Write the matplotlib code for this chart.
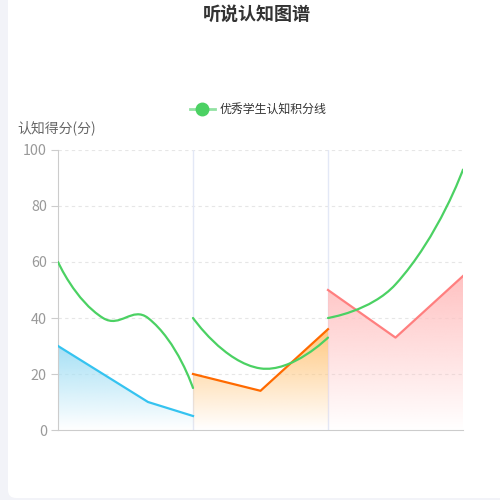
import numpy as np
import matplotlib
matplotlib.use("Agg")
import matplotlib.pyplot as plt
from matplotlib.path import Path
from matplotlib.patches import PathPatch, FancyBboxPatch
from matplotlib.lines import Line2D
from matplotlib.colors import to_rgb

plt.rcParams['font.family'] = ['Noto Sans CJK SC', 'DejaVu Sans']

# 数据：三个阶段，每段一条面积折线 + 一条平滑的“优秀学生”曲线
title = '听说认知图谱'
y_name = '认知得分(分)'
legend_name = '优秀学生认知积分线'
y_ticks = [0, 20, 40, 60, 80, 100]
stage_bounds = [3, 6]

blue_x = [0, 2, 3]
blue_y = [30, 10, 5]
orange_x = [3, 4.5, 6]
orange_y = [20, 14, 36]
pink_x = [6, 7.5, 9]
pink_y = [50, 33, 55]

green1_x = [0, 1, 2, 3]
green1_y = [60, 40, 40, 15]
green2_x = [3, 4.5, 6]
green2_y = [40, 22, 33]
green3_x = [6, 7.5, 9]
green3_y = [40, 52, 93]

GREEN = '#4bd163'

fig = plt.figure(figsize=(5, 5), dpi=100, facecolor='#f2f3f8')
card = FancyBboxPatch((8 / 500, 2 / 500), 1.1, 1.1, boxstyle='round,pad=0,rounding_size=0.016',
                      transform=fig.transFigure, facecolor='white', edgecolor='none', zorder=-5)
fig.patches.append(card)

ax = fig.add_axes([58 / 500, 70 / 500, 405 / 500, 280 / 500])
ax.set_facecolor('none')
ax.set_xlim(0, 9)
ax.set_ylim(0, 100)

for s in ['top', 'right']:
    ax.spines[s].set_visible(False)
ax.spines['left'].set_color('#cccccc')
ax.spines['bottom'].set_color('#cccccc')
ax.set_xticks([])
ax.set_yticks(y_ticks)
ax.tick_params(axis='y', length=5, color='#cccccc', labelcolor='#999999', labelsize=10.3, pad=3)
for t in y_ticks[1:]:
    ax.axhline(t, color='#e6e6e6', lw=0.8, ls=(0, (3, 3)), zorder=1)
for b in stage_bounds:
    ax.axvline(b, color='#e3e8f6', lw=1, zorder=1)


def area(xs, ys, line_color, top_color):
    poly = ax.fill_between(xs, ys, 0, facecolor='none', edgecolor='none')
    rgb = to_rgb(top_color)
    grad = np.zeros((256, 1, 4))
    grad[:, 0, :3] = rgb
    grad[:, 0, 3] = np.linspace(1, 0, 256)
    im = ax.imshow(grad, extent=[min(xs), max(xs), 0, max(ys)], origin='upper',
                   aspect='auto', zorder=2, interpolation='bilinear')
    im.set_clip_path(poly.get_paths()[0], transform=ax.transData)
    ax.plot(xs, ys, color=line_color, lw=1.6, zorder=3)
    ax.set_xlim(0, 9)
    ax.set_ylim(0, 100)


area(blue_x, blue_y, '#35c3f0', '#a6e0f5')
area(orange_x, orange_y, '#ff6a00', '#ffc880')
area(pink_x, pink_y, '#ff7f7f', '#ffc2c2')


def smooth_line(xs, ys, smooth=0.5):
    pts = ax.transData.transform(np.column_stack([xs, ys]))
    verts = [pts[0]]
    codes = [Path.MOVETO]
    cp0 = pts[0]
    n = len(pts)
    for i in range(1, n):
        p = pts[i]
        if i < n - 1:
            prev, nxt = pts[i - 1], pts[i + 1]
            v = nxt - prev
            l0 = np.hypot(*(p - prev))
            l1 = np.hypot(*(nxt - p))
            r = l1 / (l0 + l1)
            cp1 = p - v * smooth * (1 - r)
            next_cp0 = p + v * smooth * r
        else:
            cp1 = p
            next_cp0 = p
        verts += [cp0, cp1, p]
        codes += [Path.CURVE4] * 3
        cp0 = next_cp0
    data_verts = ax.transData.inverted().transform(np.array(verts))
    ax.add_patch(PathPatch(Path(data_verts, codes), facecolor='none', edgecolor=GREEN,
                           lw=1.6, zorder=4, capstyle='round'))


smooth_line(green1_x, green1_y)
smooth_line(green2_x, green2_y)
smooth_line(green3_x, green3_y)

fig.text(257 / 500, 1 - 14 / 500, title, ha='center', va='center', fontsize=13,
         fontweight='bold', color='#333333')
fig.text(57 / 500, 1 - 128 / 500, y_name, ha='center', va='center', fontsize=10, color='#666666')

handle = Line2D([], [], color='#93e2a3', lw=2, marker='o', markersize=9,
                markerfacecolor=GREEN, markeredgecolor=GREEN)
fig.legend([handle], [legend_name], loc='center', bbox_to_anchor=(258 / 500, 1 - 110 / 500),
           frameon=False, fontsize=8.6, handlelength=2.1, handletextpad=0.4,
           labelcolor='#333333')

fig.savefig('out.png', dpi=100, facecolor=fig.get_facecolor())
